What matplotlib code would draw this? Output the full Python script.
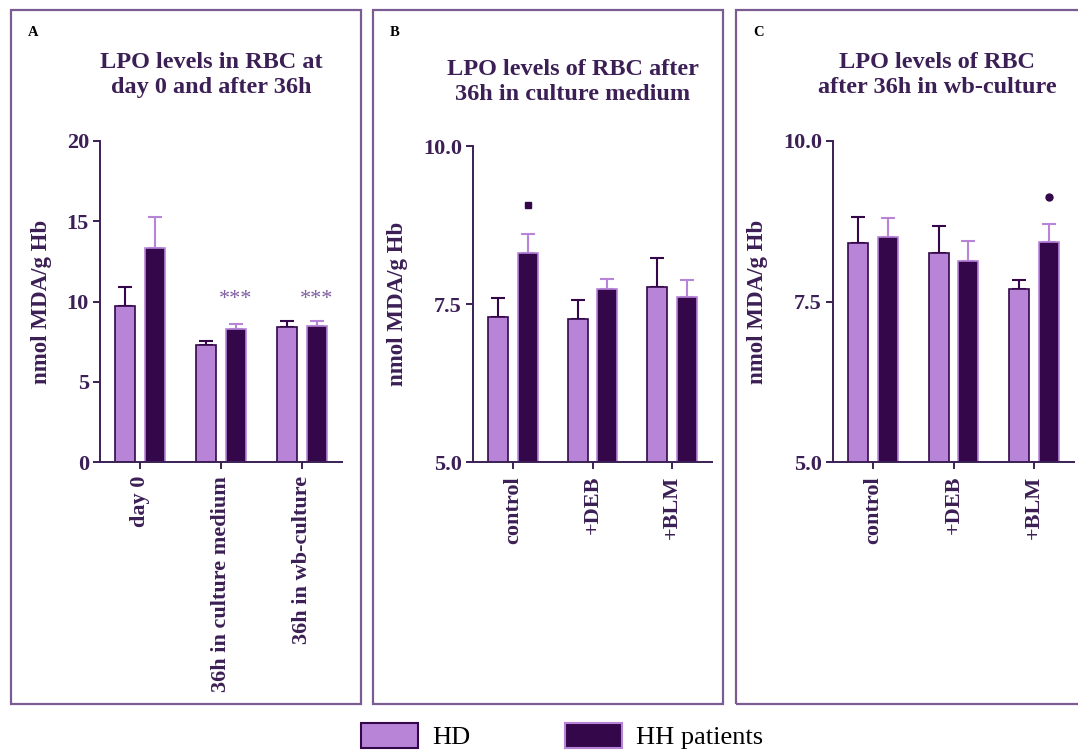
import matplotlib
matplotlib.use("Agg")
import matplotlib.pyplot as plt
from matplotlib.patches import Rectangle
import numpy as np

W, H = 1078, 753

# values (nmol MDA / g Hb), mean and upper SEM
groups_a = ['day 0', '36h in culture medium', '36h in wb-culture']
hd_a = [9.7, 7.3, 8.4]
hd_a_err = [1.2, 0.25, 0.4]
hh_a = [13.35, 8.3, 8.5]
hh_a_err = [1.9, 0.3, 0.3]

groups_bc = ['control', '+DEB', '+BLM']
hd_b = [7.29, 7.27, 7.77]
hd_b_err = [0.31, 0.29, 0.45]
hh_b = [8.3, 7.74, 7.61]
hh_b_err = [0.3, 0.16, 0.27]

hd_c = [8.41, 8.26, 7.69]
hd_c_err = [0.41, 0.42, 0.15]
hh_c = [8.5, 8.13, 8.43]
hh_c_err = [0.3, 0.31, 0.27]

light = '#b784d8'
dark = '#34074a'
axcol = '#3b1f55'
boxcol = '#7a5c92'
starcol = '#7d5fa0'

plt.rcParams['font.family'] = ['Liberation Serif', 'DejaVu Serif']
plt.rcParams['font.weight'] = 'bold'

fig = plt.figure(figsize=(W / 100, H / 100), dpi=100)


def px_rect(x0, y0, x1, y1):
    return [x0 / W, 1 - y1 / H, (x1 - x0) / W, (y1 - y0) / H]


def panel(box, axrect, letter, title, title_xy, groups, hd, hd_err, hh, hh_err,
          ylim, yticks, yfmt, label_gap):
    # frame around the panel
    fig.add_artist(Rectangle((box[0] / W, 1 - box[3] / H), (box[2] - box[0]) / W,
                             (box[3] - box[1]) / H, transform=fig.transFigure,
                             fill=False, edgecolor=boxcol, linewidth=1.6))
    fig.text((box[0] + 17) / W, 1 - 33 / H, letter, fontsize=10.5, weight='bold',
             color='black', va='center')
    fig.text(title_xy[0] / W, 1 - title_xy[1] / H, title, fontsize=17.5, weight='bold',
             color=axcol, ha='center', va='center', linespacing=1.3)

    ax = fig.add_axes(px_rect(*axrect))
    x = np.arange(len(groups))
    w, off = 0.25, 0.186
    ax.bar(x - off, hd, w, color=light, edgecolor=dark, linewidth=1.2, zorder=2)
    ax.bar(x + off, hh, w, color=dark, edgecolor=light, linewidth=1.2, zorder=2)
    ax.errorbar(x - off, hd, yerr=[np.zeros(len(hd)), hd_err], fmt='none',
                ecolor=dark, elinewidth=1.5, capsize=5, capthick=1.5, zorder=1)
    ax.errorbar(x + off, hh, yerr=[np.zeros(len(hh)), hh_err], fmt='none',
                ecolor=light, elinewidth=1.5, capsize=5, capthick=1.5, zorder=1)
    ax.set_xlim(-0.5, len(groups) - 0.5)
    ax.set_ylim(*ylim)
    ax.set_yticks(yticks)
    ax.set_yticklabels([yfmt.format(t) for t in yticks])
    ax.set_xticks(x)
    ax.set_xticklabels(groups, rotation=90)
    for s in ['top', 'right']:
        ax.spines[s].set_visible(False)
    for s in ['left', 'bottom']:
        ax.spines[s].set_color(axcol)
        ax.spines[s].set_linewidth(1.4)
    ax.tick_params(colors=axcol, labelsize=16, width=1.4, length=5, pad=3)
    ax.tick_params(axis='x', pad=5)
    for lab in ax.get_xticklabels() + ax.get_yticklabels():
        lab.set_weight('bold')
    ax.set_ylabel('nmol MDA/g Hb', fontsize=16.5, weight='bold', color=axcol)
    ax.yaxis.set_label_coords(-label_gap / (axrect[2] - axrect[0]), 0.5)
    return ax, x, off


ax_a, xa, off = panel((11, 10, 361, 704), (100, 141, 342, 462), 'A',
                      'LPO levels in RBC at\nday 0 and after 36h', (211, 75),
                      groups_a, hd_a, hd_a_err, hh_a, hh_a_err,
                      (0, 20), [0, 5, 10, 15, 20], '{:g}', 48)
for i in [1, 2]:
    ax_a.text(xa[i] + off, 9.55, '***', ha='center', va='bottom', fontsize=16,
              color=starcol, weight='normal')

ax_b, xb, off = panel((373, 10, 723, 704), (473, 146, 712, 462), 'B',
                      'LPO levels of RBC after\n36h in culture medium', (573, 82),
                      groups_bc, hd_b, hd_b_err, hh_b, hh_b_err,
                      (5, 10), [5.0, 7.5, 10.0], '{:.1f}', 65)
ax_b.plot([xb[0] + off], [9.07], marker='s', color=dark, markersize=4.5, zorder=3)

ax_c, xc, off = panel((736, 10, 1090, 704), (833, 141, 1074, 462), 'C',
                      'LPO levels of RBC\nafter 36h in wb-culture', (937, 75),
                      groups_bc, hd_c, hd_c_err, hh_c, hh_c_err,
                      (5, 10), [5.0, 7.5, 10.0], '{:.1f}', 65)
ax_c.plot([xc[2] + off], [9.13], marker='o', color=dark, markersize=5, zorder=3)

# legend along the bottom
legend_items = [('HD', light, dark, 361), ('HH patients', dark, light, 565)]
for name, fc, ec, x0 in legend_items:
    fig.add_artist(Rectangle((x0 / W, 1 - 748 / H), 57 / W, 25 / H,
                             transform=fig.transFigure, facecolor=fc,
                             edgecolor=ec, linewidth=1.5))
    fig.text((x0 + 71) / W, 1 - 738 / H, name, fontsize=19, weight='normal',
             color='black', va='center')

fig.savefig('out.png', dpi=100)
